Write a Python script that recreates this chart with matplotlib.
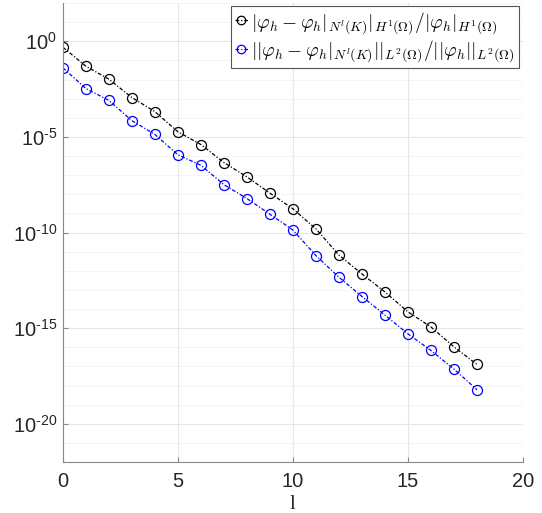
import numpy as np
import matplotlib
matplotlib.use("Agg")
import matplotlib.pyplot as plt
from matplotlib.ticker import FixedLocator, FuncFormatter

plt.rcParams['font.family'] = 'Liberation Sans'
plt.rcParams['mathtext.fontset'] = 'custom'
plt.rcParams['mathtext.rm'] = 'Liberation Sans'
plt.rcParams['mathtext.it'] = 'Liberation Sans:italic'
plt.rcParams['axes.unicode_minus'] = False

# refinement level l and relative errors
levels = np.arange(0, 19)
err_h1 = [4.9e-1, 5.0e-2, 1.05e-2, 1.15e-3, 2.1e-4, 1.86e-5, 4.0e-6, 4.6e-7,
          8.1e-8, 1.15e-8, 1.74e-9, 1.55e-10, 6.6e-12, 6.8e-13, 7.8e-14,
          7.1e-15, 1.15e-15, 1.05e-16, 1.26e-17]
err_l2 = [4.1e-2, 3.4e-3, 8.1e-4, 7.1e-5, 1.35e-5, 1.17e-6, 3.3e-7, 3.2e-8,
          6.0e-9, 9.1e-10, 1.35e-10, 6.2e-12, 4.6e-13, 4.5e-14, 4.8e-15,
          5.0e-16, 6.8e-17, 7.2e-18, 6.0e-19]

label_h1 = r'$|\varphi_h-\varphi_h|_{N^l(K)}|_{H^1(\Omega)}/|\varphi_h|_{H^1(\Omega)}$'
label_l2 = r'$||\varphi_h-\varphi_h|_{N^l(K)}||_{L^2(\Omega)}/||\varphi_h||_{L^2(\Omega)}$'

fig = plt.figure(figsize=(5.42, 5.13), dpi=100)
ax = fig.add_axes([0.116, 0.0994, 0.849, 0.8946])

dash = (0, (3, 1.5, 1, 1.5))
ax.semilogy(levels, err_h1, color='black', linestyle=dash, linewidth=0.9,
            marker='o', markersize=7.2, markerfacecolor='none',
            markeredgewidth=0.9, label=label_h1)
ax.semilogy(levels, err_l2, color='#0000ff', linestyle=dash, linewidth=0.9,
            marker='o', markersize=7.2, markerfacecolor='none',
            markeredgewidth=0.9, label=label_l2)

ax.set_xlim(0, 20)
ax.set_ylim(1e-22, 1e2)
ax.set_xticks([0, 5, 10, 15, 20])
ax.yaxis.set_major_locator(FixedLocator([10.0**k for k in range(-20, 1, 5)]))
ax.yaxis.set_minor_locator(FixedLocator([10.0**k for k in range(-22, 3)]))
ax.yaxis.set_major_formatter(FuncFormatter(lambda v, p: r'$10^{\text{%d}}$' % round(np.log10(v))))
ax.yaxis.set_minor_formatter(FuncFormatter(lambda v, p: ''))

ax.grid(True, which='major', color='#e6e6e6', linewidth=0.8)
ax.grid(True, which='minor', axis='y', color='#ececec', linewidth=0.6, linestyle=(0, (2, 1)))
ax.set_axisbelow(True)

for side in ['top', 'right']:
    ax.spines[side].set_visible(False)
for side in ['left', 'bottom']:
    ax.spines[side].set_color('#888888')
    ax.spines[side].set_linewidth(0.8)

ax.tick_params(which='both', direction='in', colors='#888888', labelcolor='#262626',
               labelsize=14.5)
ax.tick_params(which='minor', length=0)
ax.tick_params(axis='x', pad=7)
ax.tick_params(axis='y', pad=4)

ax.set_xlabel('l', family='Liberation Serif', fontsize=15, color='#262626', labelpad=3)

leg = ax.legend(loc='upper right', bbox_to_anchor=(0.957, 0.988), bbox_transform=fig.transFigure,
                fontsize=14, fancybox=False, framealpha=1, edgecolor='#555555',
                handlelength=0.7, handletextpad=0.15, borderpad=0.2, labelspacing=0.12,
                borderaxespad=0, markerscale=0.85)
leg.get_frame().set_linewidth(0.8)
for t in leg.get_texts():
    t.set_math_fontfamily('cm')

fig.savefig('out.png', dpi=100)
